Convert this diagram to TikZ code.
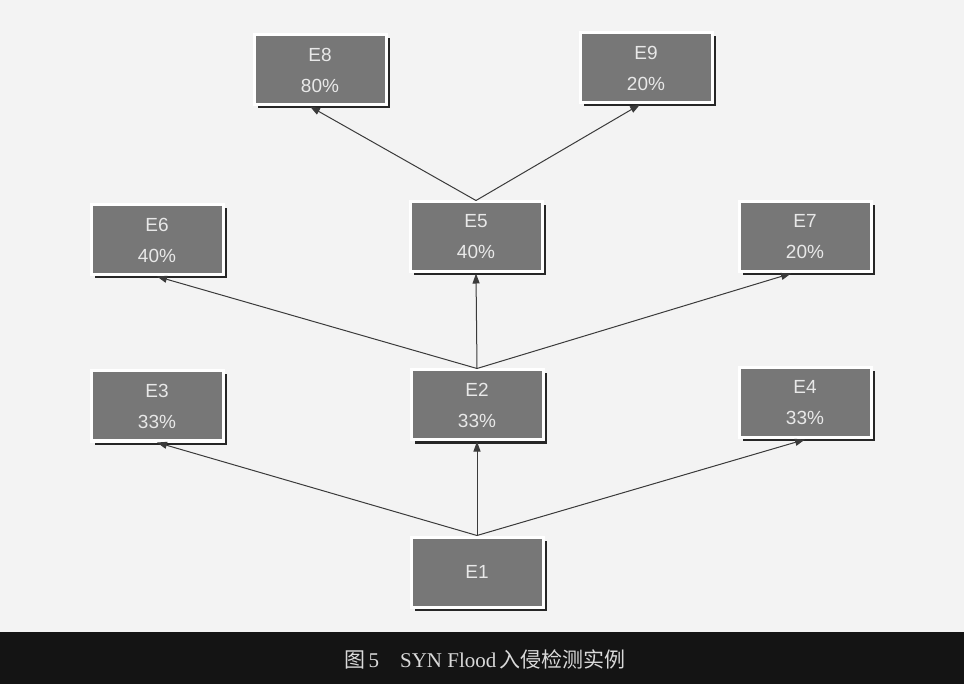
\documentclass[tikz,border=0pt]{standalone}
\usepackage{fontspec}
\setmainfont{Liberation Serif}
\newfontfamily\boxfont{Liberation Sans}
\newfontfamily\cjk{Noto Sans CJK SC}
\usetikzlibrary{arrows.meta,shadows}
\definecolor{paper}{HTML}{F3F3F3}
\definecolor{boxgray}{HTML}{777777}
\definecolor{boxtext}{HTML}{E8E8E8}
\definecolor{linecol}{HTML}{3A3A3A}
\tikzset{
  evbox/.style={draw=white, line width=3pt, fill=boxgray, minimum width=132pt, minimum height=70pt,
    inner sep=0pt, align=center, text=boxtext, font=\boxfont\fontsize{19}{31}\selectfont,
    drop shadow={shadow xshift=3.5pt, shadow yshift=-3.5pt, opacity=1, fill=black!85}},
  conn/.style={draw=linecol, line width=1pt, -{Triangle[length=10pt,width=7pt]}}
}
\begin{document}
\begin{tikzpicture}[x=1pt,y=-1pt]
\fill[paper] (0,0) rectangle (964,684);
\useasboundingbox (0,0) rectangle (964,684);
\node[evbox] (E8) at (320,70) {E8\\80\%};
\node[evbox] (E9) at (646,68) {E9\\20\%};
\node[evbox] (E6) at (157,240) {E6\\40\%};
\node[evbox] (E5) at (476,237) {E5\\40\%};
\node[evbox] (E7) at (805,237) {E7\\20\%};
\node[evbox] (E3) at (157,406) {E3\\33\%};
\node[evbox] (E2) at (477,405) {E2\\33\%};
\node[evbox] (E4) at (805,403) {E4\\33\%};
\node[evbox] (E1) at (477,572) {E1};
\draw[conn] (E1.north) -- (E3.south);
\draw[conn] (E1.north) -- (E2.south);
\draw[conn] (E1.north) -- (E4.south);
\draw[conn] (E2.north) -- (E6.south);
\draw[conn] (E2.north) -- (E5.south);
\draw[conn] (E2.north) -- ([xshift=-14pt]E7.south);
\draw[conn] (E5.north) -- ([xshift=-10pt]E8.south);
\draw[conn] (E5.north) -- ([xshift=-6pt]E9.south);
\fill[black!92] (0,632) rectangle (964,684);
\node[text=white!85!black, font=\fontsize{21}{24}\selectfont] (cap) at (485,659)
  {{\cjk 图}\,5\quad SYN Flood\,{\cjk 入侵检测实例}};
\end{tikzpicture}
\end{document}
